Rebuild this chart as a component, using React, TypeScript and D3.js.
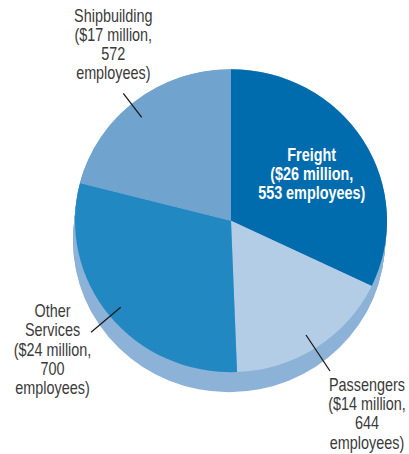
import React from "react";
import * as d3 from "d3";

const categories = ["Freight", "Passengers", "Other Services", "Shipbuilding"];
const revenue = [26, 14, 24, 17];
const employees = [553, 644, 700, 572];
const labelLines = [
  ["Freight", "($26 million,", "553 employees)"],
  ["Passengers", "($14 million,", "644", "employees)"],
  ["Other", "Services", "($24 million,", "700", "employees)"],
  ["Shipbuilding", "($17 million,", "572", "employees)"],
];
const colors = ["#006bad", "#b3cde6", "#2288c1", "#70a4cf"];
const depthColor = "#8cb2d7";

const W = 409;
const H = 454;
const cx = 231;
const cy = 220.7;
const rx = 156;
const ry = 151.5;
const depth = 20;
const depthDx = -2;

const labelPos = [
  { x: 311.7, y: 161, color: "#ffffff", bold: true },
  { x: 367, y: 391, color: "#3a3a3a", bold: false },
  { x: 52.5, y: 317.3, color: "#3a3a3a", bold: false },
  { x: 113.3, y: 21.7, color: "#3a3a3a", bold: false },
];
const leaders = [
  null,
  [306, 335, 330, 371],
  [120.7, 307.3, 91, 332.3],
  [141.7, 117.3, 123.3, 93.3],
];

export default function App() {
  const pie = d3.pie<number>().sort(null).value((d) => d);
  const arcs = pie(revenue);
  const arc = d3.arc<d3.PieArcDatum<number>>().innerRadius(0).outerRadius(rx);
  const steps = d3.range(0, depth + 1, 1);
  const fontFamily = "'Liberation Sans', Arial, sans-serif";
  return (
    <svg
      width={W}
      height={H}
      style={{ position: "absolute", left: 0, top: 0 }}
    >
      <g>
        {steps.map((s) => (
          <ellipse
            key={s}
            cx={cx + (depthDx * s) / depth}
            cy={cy + s}
            rx={rx}
            ry={ry}
            fill={depthColor}
          />
        ))}
      </g>
      <g transform={`translate(${cx},${cy}) scale(1,${ry / rx})`}>
        {arcs.map((a, i) => (
          <path key={categories[i]} d={arc(a) || ""} fill={colors[i]} />
        ))}
      </g>
      {leaders.map((l, i) =>
        l ? (
          <line
            key={"l" + i}
            x1={l[0]}
            y1={l[1]}
            x2={l[2]}
            y2={l[3]}
            stroke="#1a1a1a"
            strokeWidth={1.3}
          />
        ) : null
      )}
      {labelLines.map((lines, i) => (
        <g key={"t" + i} transform={`translate(${labelPos[i].x},0) scale(0.8,1)`}>
          <text
            x={0}
            y={labelPos[i].y}
            textAnchor="middle"
            fill={labelPos[i].color}
            fontFamily={fontFamily}
            fontSize={18}
            fontWeight={labelPos[i].bold ? "bold" : "normal"}
            data-employees={employees[i]}
          >
            {lines.map((t, j) => (
              <tspan key={j} x={0} y={labelPos[i].y + j * 19.2}>
                {t}
              </tspan>
            ))}
          </text>
        </g>
      ))}
    </svg>
  );
}
